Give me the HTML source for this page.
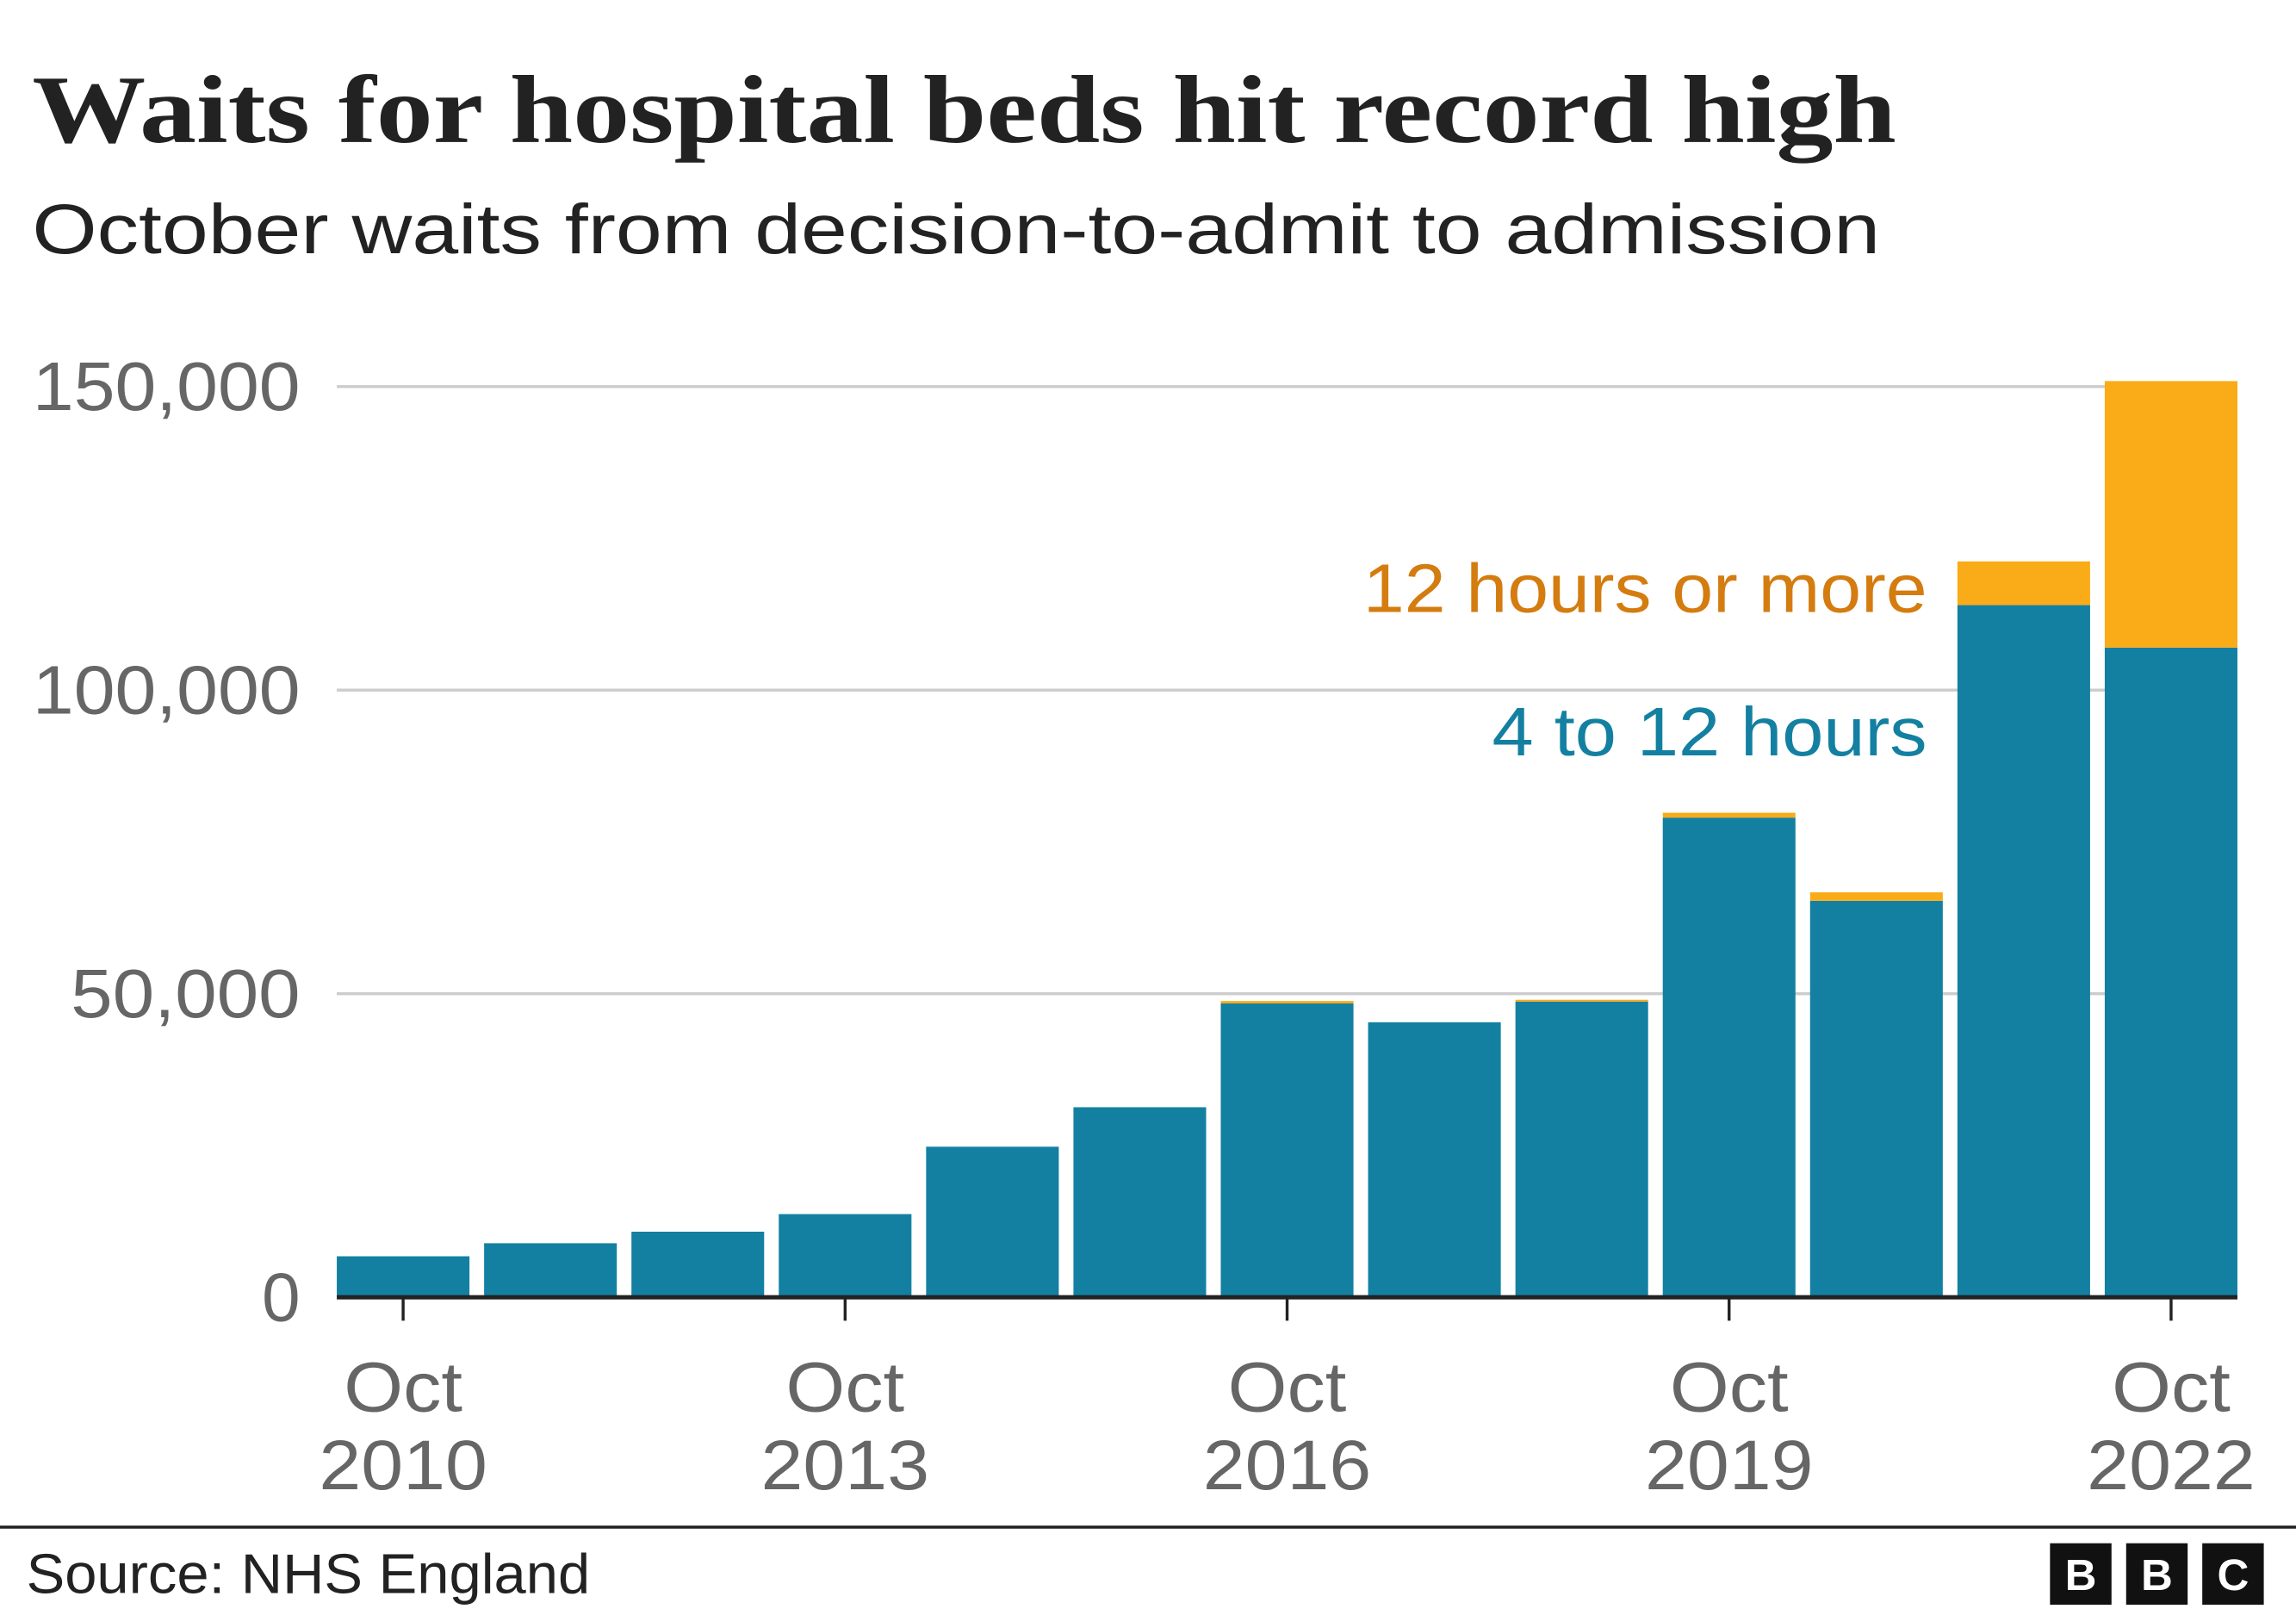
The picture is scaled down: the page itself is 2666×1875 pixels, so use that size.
<!DOCTYPE html>
<html><head><meta charset="utf-8">
<style>
html,body{margin:0;padding:0;background:#fff;}
svg{display:block;}
</style></head>
<body>
<svg id="chart" width="2666" height="1875" viewBox="0 0 1568 1103" preserveAspectRatio="none" xmlns="http://www.w3.org/2000/svg">
  <rect x="0" y="0" width="1568" height="1103" fill="#fff"/>
  <text x="22" y="97" font-family="Liberation Serif, serif" font-weight="bold" font-size="66" fill="#222" textLength="1273" lengthAdjust="spacingAndGlyphs">Waits for hospital beds hit record high</text>
  <text x="22" y="173" font-family="Liberation Sans, sans-serif" font-size="48" fill="#222" textLength="1262" lengthAdjust="spacingAndGlyphs">October waits from decision-to-admit to admission</text>
  <g id="grid"></g>
  <g id="bars"></g>
  <g id="xaxis"></g>
  <text x="931" y="418" font-family="Liberation Sans, sans-serif" font-size="47" fill="#d47c0f" textLength="385" lengthAdjust="spacingAndGlyphs">12 hours or more</text>
  <text x="1019" y="516" font-family="Liberation Sans, sans-serif" font-size="47" fill="#1380a1" textLength="297" lengthAdjust="spacingAndGlyphs">4 to 12 hours</text>
  <line x1="0" y1="1043" x2="1568" y2="1043" stroke="#222" stroke-width="2"/>
  <text x="18" y="1088" font-family="Liberation Sans, sans-serif" font-size="38" fill="#222" textLength="385" lengthAdjust="spacingAndGlyphs">Source: NHS England</text>
  <g font-family="Liberation Sans, sans-serif" font-weight="bold" font-size="30" fill="#fff" text-anchor="middle">
    <rect x="1400" y="1054" width="42" height="42" fill="#111"/><text x="1421" y="1086">B</text>
    <rect x="1452" y="1054" width="42" height="42" fill="#111"/><text x="1473" y="1086">B</text>
    <rect x="1504" y="1054" width="42" height="42" fill="#111"/><text x="1525" y="1086">C</text>
  </g>
</svg>
<script>
const years = [2010,2011,2012,2013,2014,2015,2016,2017,2018,2019,2020,2021,2022];
const shortWaits = [6750,8900,10800,13700,24800,31300,48400,45300,48700,79000,65300,114000,107000];
const longWaits = [0,0,0,0,0,0,400,0,300,800,1400,7200,43900];
const yTicks = [0,50000,100000,150000];
const yTickLabels = ["0","50,000","100,000","150,000"];
const xTickYears = [2010,2013,2016,2019,2022];

const NS = "http://www.w3.org/2000/svg";
const plotL = 230, plotR = 1528, y0 = 886, yTop = 264;
const y = v => y0 - (v / 150000) * (y0 - yTop);
const step = (plotR + 10 - plotL) / years.length;
const barW = step - 10;
const xC = i => plotL + step * i + barW / 2;
function mk(tag, attrs, parent){const e=document.createElementNS(NS,tag);for(const k in attrs)e.setAttribute(k,attrs[k]);parent.appendChild(e);return e;}

const grid = document.getElementById('grid');
yTicks.forEach((t,i)=>{
  if(t>0){
    const l = mk('line',{x1:plotL,x2:1438,y1:y(t),y2:y(t),stroke:'#cccccc','stroke-width':2},grid);
    
    
  }
  const lab = yTickLabels[i];
  const attrs = {x:205,y:y(t)+16,'text-anchor':'end','font-family':'Liberation Sans, sans-serif','font-size':47,fill:'#666'};
  if(lab.length>1){attrs.textLength = lab.length*26.1; attrs.lengthAdjust='spacingAndGlyphs';}
  const tx = mk('text',attrs,grid);
  tx.textContent = lab;
  
  
});

const bars = document.getElementById('bars');
years.forEach((yr,i)=>{
  const x = xC(i) - barW/2;
  const b = mk('rect',{x:x,y:y(shortWaits[i]),width:barW,height:y0-y(shortWaits[i]),fill:'#1380a1'},bars);
  
  
  if(longWaits[i]>0){
    const top = y(shortWaits[i]+longWaits[i]);
    const o = mk('rect',{x:x,y:top,width:barW,height:y(shortWaits[i])-top,fill:'#faab18'},bars);
    
    
  }
});

const xa = document.getElementById('xaxis');
const base = mk('line',{x1:plotL,x2:plotR,y1:y0,y2:y0,stroke:'#222','stroke-width':3},xa);


xTickYears.forEach(yr=>{
  const i = years.indexOf(yr);
  const cx = xC(i);
  const t = mk('line',{x1:cx,x2:cx,y1:y0,y2:y0+16,stroke:'#222','stroke-width':2},xa);
  
  
  const l1 = mk('text',{x:cx,y:964,'text-anchor':'middle','font-family':'Liberation Sans, sans-serif','font-size':48,fill:'#666',textLength:81,lengthAdjust:'spacingAndGlyphs'},xa);
  l1.textContent='Oct';
  
  
  const l2 = mk('text',{x:cx,y:1017,'text-anchor':'middle','font-family':'Liberation Sans, sans-serif','font-size':48,fill:'#666',textLength:115,lengthAdjust:'spacingAndGlyphs'},xa);
  l2.textContent=String(yr);
  
  
});
</script>
</body></html>
